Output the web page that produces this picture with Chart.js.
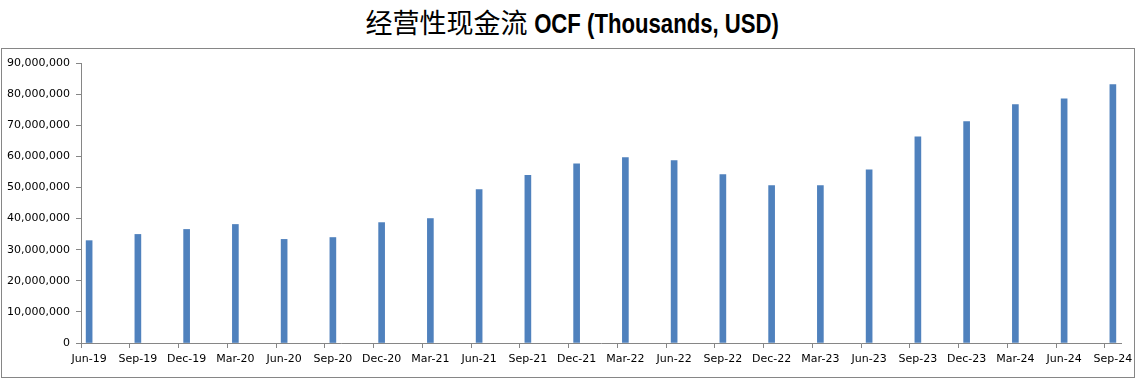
<!DOCTYPE html>
<html>
<head>
<meta charset="utf-8">
<script src="https://cdn.jsdelivr.net/npm/chart.js@4/dist/chart.umd.min.js"></script>
<style>
  html, body { margin: 0; padding: 0; background: #fff; }
  #wrap { position: relative; width: 1145px; height: 381px; overflow: hidden; }
  #frame { position: absolute; left: 1px; top: 48px; width: 1134px; height: 330px; box-sizing: border-box; border: 1px solid #868686; }
  #title { position: absolute; left: 0; top: 3px; width: 1145px; text-align: center; white-space: nowrap; line-height: 38px; color: #000; }
  #title .zh { font-family: "Noto Sans CJK SC", sans-serif; font-size: 27px; font-weight: normal; }
  #title .en { display: inline-block; font-family: "Liberation Sans", sans-serif; font-size: 27px; font-weight: bold; transform: scaleX(0.82); transform-origin: 0 50%; margin-right: -54px; }
  #c { position: absolute; left: 0; top: 0; }
</style>
</head>
<body>
<div id="wrap">
  <div id="frame"></div>
  <div id="title"><span class="zh">经营性现金流</span><span class="en">&nbsp;OCF (Thousands, USD)</span></div>
  <canvas id="c" width="1145" height="381"></canvas>
</div>
<script>
const quarters = ["Jun-19","Sep-19","Dec-19","Mar-20","Jun-20","Sep-20","Dec-20","Mar-21","Jun-21","Sep-21","Dec-21","Mar-22","Jun-22","Sep-22","Dec-22","Mar-23","Jun-23","Sep-23","Dec-23","Mar-24","Jun-24","Sep-24"];
const ocfValues = [32900000,34900000,36500000,38100000,33300000,33900000,38700000,40000000,49300000,53900000,57600000,59600000,58600000,54100000,50600000,50600000,55700000,66300000,71200000,76600000,78500000,83100000];
const yTicks = [0,10000000,20000000,30000000,40000000,50000000,60000000,70000000,80000000,90000000];

// Monthly slots (date-like axis): each quarter occupies three months, label on its first month
const monthLabels = [];
const monthValues = [];
quarters.forEach((q, k) => {
  monthLabels.push(q); monthValues.push(ocfValues[k]);
  if (k < quarters.length - 1) {
    monthLabels.push(""); monthValues.push(null);
    monthLabels.push(""); monthValues.push(null);
  }
});

const axisGray = "#868686";
const tickFont = { family: "DejaVu Sans", size: 11 };

new Chart(document.getElementById("c"), {
  type: "bar",
  data: {
    labels: monthLabels,
    datasets: [{
      data: monthValues,
      backgroundColor: "#4F81BD",
      borderWidth: 0,
      barThickness: 6,
      skipNull: true
    }]
  },
  options: {
    responsive: false,
    animation: false,
    devicePixelRatio: 1,
    layout: { padding: { left: 0, right: 24, top: 63, bottom: 0 } },
    plugins: { legend: { display: false }, tooltip: { enabled: false }, title: { display: false } },
    scales: {
      x: {
        type: "category",
        offset: true,
        grid: {
          offset: true,
          drawOnChartArea: false,
          drawTicks: true,
          tickLength: 5,
          color: (ctx) => (ctx.index % 3 === 0 ? axisGray : "rgba(0,0,0,0)"),
          tickColor: (ctx) => (ctx.index % 3 === 0 ? axisGray : "rgba(0,0,0,0)")
        },
        border: { display: true, color: axisGray, width: 1 },
        ticks: {
          autoSkip: false,
          maxRotation: 0,
          minRotation: 0,
          padding: 5,
          color: "#000",
          font: tickFont,
          callback: function (v, i) { return monthLabels[i]; }
        },
        afterFit: (scale) => { scale.height = 38; }
      },
      y: {
        min: 0,
        max: 90000000,
        afterBuildTicks: (scale) => { scale.ticks = yTicks.map(v => ({ value: v })); },
        grid: { drawOnChartArea: false, drawTicks: true, tickLength: 5, color: axisGray, tickColor: axisGray },
        border: { display: true, color: axisGray, width: 1 },
        ticks: {
          padding: 6,
          color: "#000",
          font: tickFont,
          callback: (v) => Number(v).toLocaleString("en-US")
        },
        afterFit: (scale) => { scale.width = 81; }
      }
    }
  }
});
</script>
</body>
</html>
